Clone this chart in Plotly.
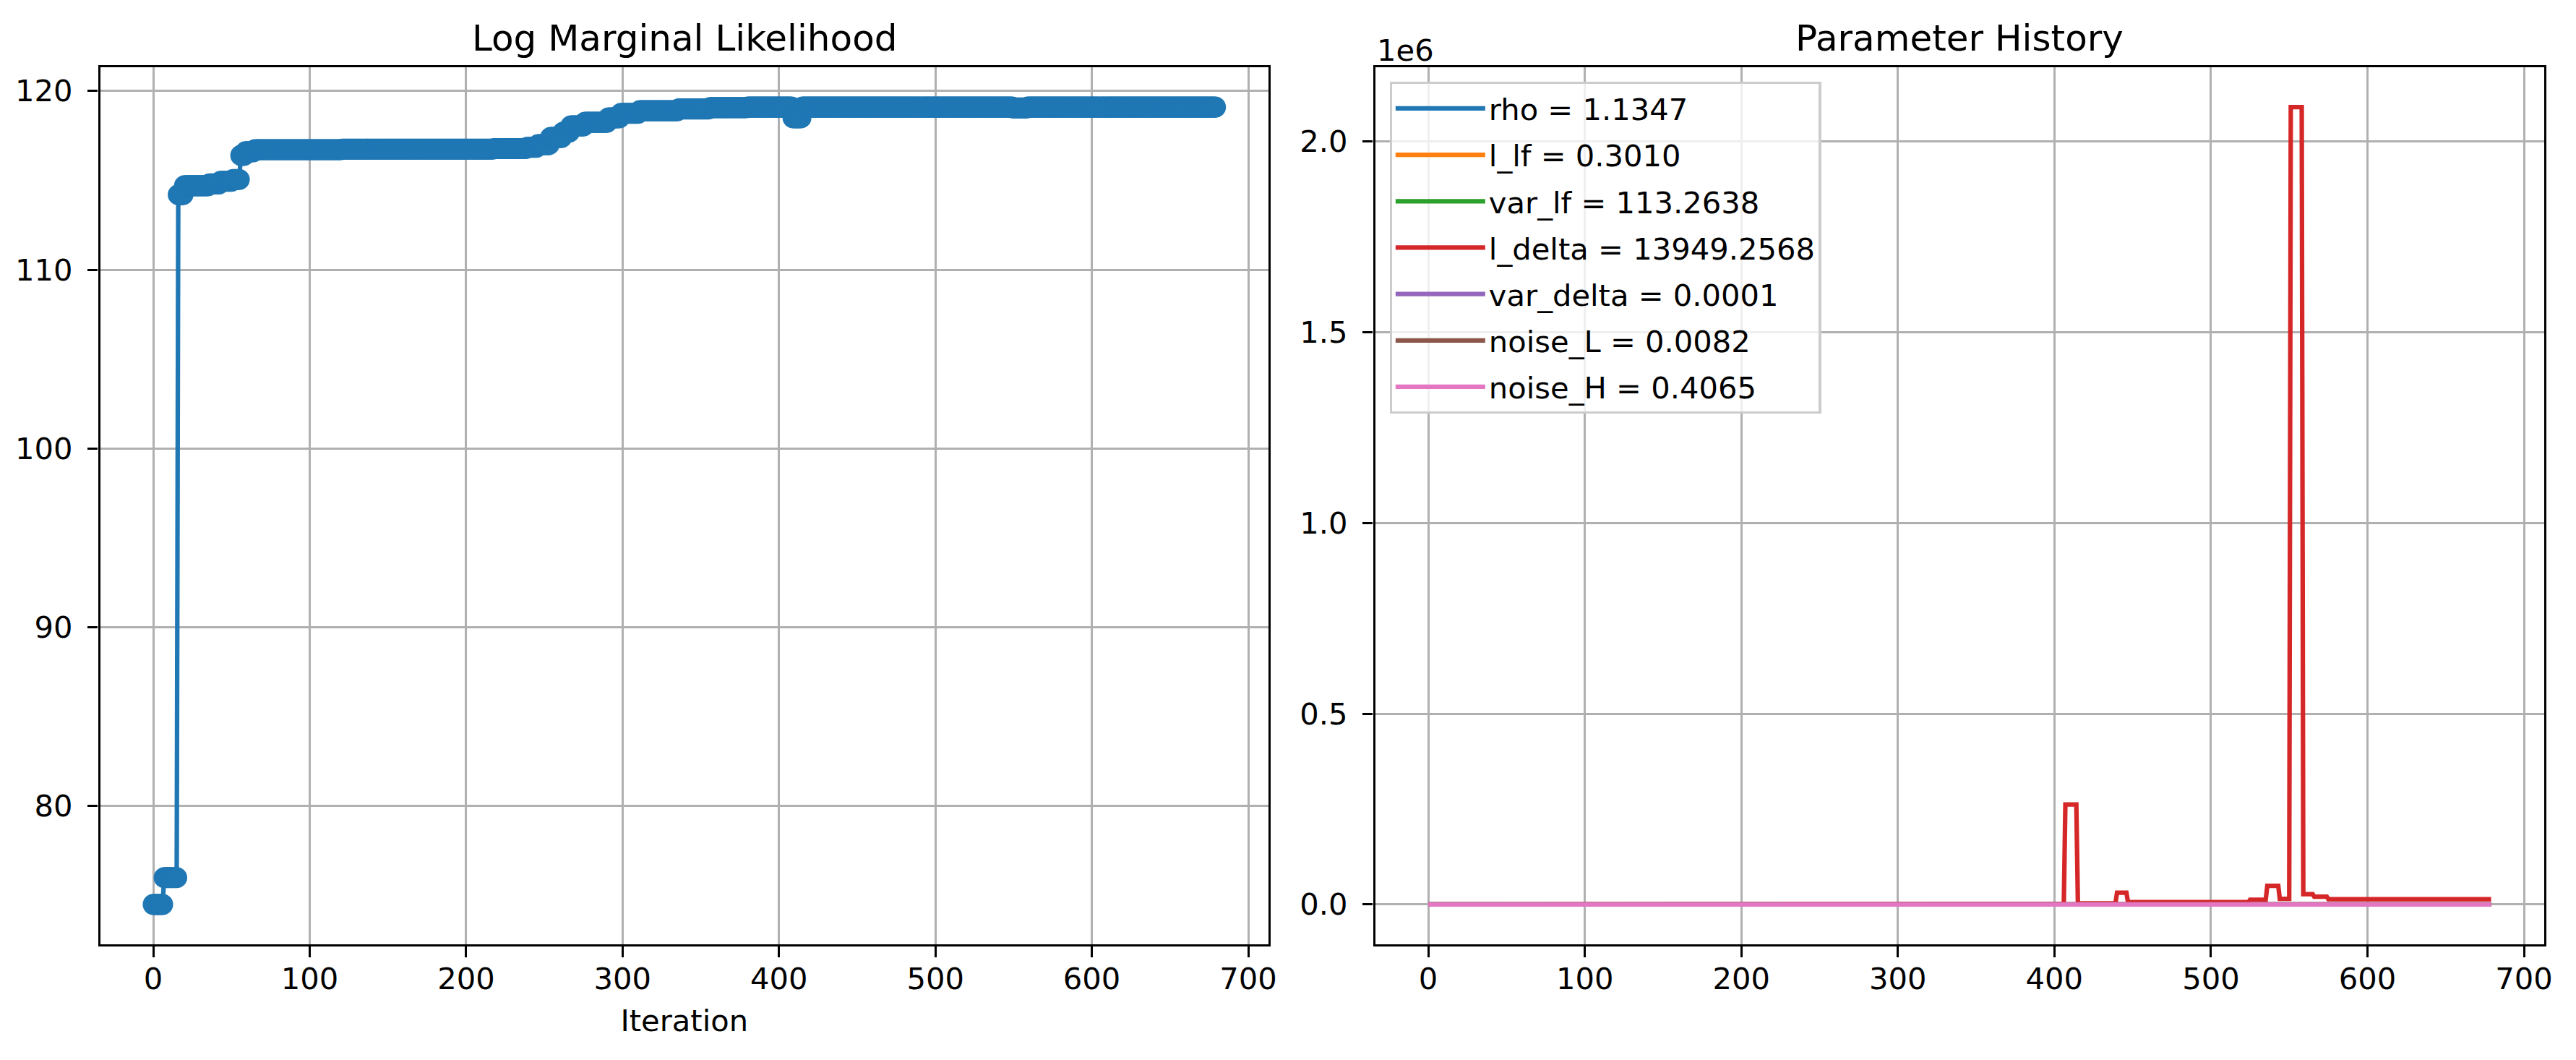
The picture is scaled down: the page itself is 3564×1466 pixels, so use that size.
import numpy as np
import plotly.graph_objects as go

# ---------------- data ----------------
N_ITER = 680
ITERATIONS = list(range(N_ITER))

# Log marginal likelihood (step history: segment start iteration, value)
LML_STARTS = [0, 7, 16, 20, 36, 43, 51, 56, 59, 65, 121, 218, 239, 246, 254,
              262, 267, 276, 291, 299, 311, 336, 356, 380, 409, 415, 550, 559]
LML_VALUES = [74.5, 76.0, 114.2, 114.7, 114.8, 114.95, 115.05, 116.4, 116.6,
              116.72, 116.75, 116.78, 116.85, 117.0, 117.4, 117.7, 118.05,
              118.25, 118.5, 118.75, 118.9, 119.0, 119.07, 119.1, 118.5,
              119.1, 119.05, 119.1]

PARAM_NAMES = ["rho", "l_lf", "var_lf", "l_delta", "var_delta", "noise_L", "noise_H"]

RHO_STARTS = [0, 16, 56, 262, 409, 551]
RHO_VALUES = [1.0, 1.05, 1.10, 1.12, 1.13, 1.1347]

L_LF_STARTS = [0, 16, 56, 262, 409]
L_LF_VALUES = [1.0, 0.6, 0.45, 0.33, 0.3010]

VAR_LF_STARTS = [0, 16, 56, 262, 409]
VAR_LF_VALUES = [1.0, 20.0, 60.0, 95.0, 113.2638]

L_DELTA_STARTS = [0, 120, 250, 350, 407, 415, 440, 447, 525, 536, 544, 551,
                  559, 566, 575]
L_DELTA_VALUES = [100.0, 300.0, 800.0, 1500.0, 262000.0, 3000.0, 31000.0,
                  6000.0, 12500.0, 49000.0, 14500.0, 2090000.0, 27000.0,
                  20500.0, 13949.2568]

VAR_DELTA_STARTS = [0, 16, 262]
VAR_DELTA_VALUES = [1.0, 0.01, 0.0001]

NOISE_L_STARTS = [0, 16, 262]
NOISE_L_VALUES = [0.1, 0.02, 0.0082]

NOISE_H_STARTS = [0, 16, 262]
NOISE_H_VALUES = [0.1, 0.3, 0.4065]

PARAM_STARTS = [RHO_STARTS, L_LF_STARTS, VAR_LF_STARTS, L_DELTA_STARTS,
                VAR_DELTA_STARTS, NOISE_L_STARTS, NOISE_H_STARTS]
PARAM_VALUES = [RHO_VALUES, L_LF_VALUES, VAR_LF_VALUES, L_DELTA_VALUES,
                VAR_DELTA_VALUES, NOISE_L_VALUES, NOISE_H_VALUES]

COLORS = ["#1f77b4", "#ff7f0e", "#2ca02c", "#d62728", "#9467bd", "#8c564b", "#e377c2"]

X_TICKS = [0, 100, 200, 300, 400, 500, 600, 700]
LML_TICKS = [80, 90, 100, 110, 120]
PARAM_TICKS = [0.0, 0.5e6, 1.0e6, 1.5e6, 2.0e6]
PARAM_TICK_TEXT = ["0.0", "0.5", "1.0", "1.5", "2.0"]


def expand(starts, values):
    lengths = np.diff(list(starts) + [N_ITER])
    return np.repeat(np.asarray(values, dtype=float), lengths)


# ---------------- style ----------------
W, H = 3564, 1466
PT = 300 / 72.0
FONT = "DejaVu Sans"
FS = 10 * PT
TFS = 12 * PT
GRID = "#b0b0b0"


def px_x(p):
    return p / W


def px_y(p):
    return (H - p) / H


def rng(vals):
    lo, hi = float(np.min(vals)), float(np.max(vals))
    m = 0.05 * (hi - lo)
    return [lo - m, hi + m]


fig = go.Figure()

lml = expand(LML_STARTS, LML_VALUES)
fig.add_trace(go.Scatter(
    x=ITERATIONS, y=lml, mode="lines+markers", xaxis="x", yaxis="y",
    line=dict(color=COLORS[0], width=1.5 * PT),
    marker=dict(color=COLORS[0], size=7 * PT, line=dict(width=0)),
    showlegend=False, name="log marginal likelihood"))

all_params = []
for i, name in enumerate(PARAM_NAMES):
    ys = expand(PARAM_STARTS[i], PARAM_VALUES[i])
    all_params.append(ys)
    fig.add_trace(go.Scatter(
        x=ITERATIONS, y=ys, mode="lines", xaxis="x2", yaxis="y2",
        line=dict(color=COLORS[i], width=1.5 * PT),
        name=f"{name} = {PARAM_VALUES[i][-1]:.4f}",
        legendgroup=name, showlegend=True))

xr = rng(ITERATIONS)
axis_common = dict(
    showline=True, mirror=True, linecolor="black", linewidth=0.8 * PT,
    showgrid=True, gridcolor=GRID, gridwidth=0.8 * PT, zeroline=False,
    ticks="outside", ticklen=3.5 * PT, tickwidth=0.8 * PT, tickcolor="black",
    tickfont=dict(family=FONT, size=FS, color="black"),
)

ydom = [px_y(1306), px_y(93)]
fig.update_layout(
    width=W, height=H, autosize=False,
    margin=dict(l=0, r=0, t=0, b=0, pad=0),
    paper_bgcolor="white", plot_bgcolor="white",
    font=dict(family=FONT, size=FS, color="black"),
    xaxis=dict(domain=[px_x(139), px_x(1761)], range=xr, tickvals=X_TICKS,
               anchor="y", ticklabelstandoff=-6,
               title=dict(text="Iteration", font=dict(family=FONT, size=FS),
                          standoff=21),
               **axis_common),
    yaxis=dict(domain=ydom, range=rng(lml), tickvals=LML_TICKS, anchor="x",
               ticklabelstandoff=12, **axis_common),
    xaxis2=dict(domain=[px_x(1909), px_x(3532)], range=xr, tickvals=X_TICKS,
                anchor="y2", ticklabelstandoff=-6, **axis_common),
    yaxis2=dict(domain=ydom, range=rng(np.concatenate(all_params)),
                tickvals=PARAM_TICKS, ticktext=PARAM_TICK_TEXT, anchor="x2",
                ticklabelstandoff=12, **axis_common),
    legend=dict(x=px_x(1929), y=px_y(113), xanchor="left", yanchor="top",
                bgcolor="rgba(255,255,255,0.8)", bordercolor="#cccccc",
                borderwidth=0.8 * PT, font=dict(family=FONT, size=FS),
                traceorder="grouped", tracegroupgap=7, itemwidth=124),
    annotations=[
        dict(text="Log Marginal Likelihood", x=px_x(950), y=px_y(53),
             xref="paper", yref="paper", xanchor="center", yanchor="middle",
             showarrow=False, font=dict(family=FONT, size=TFS)),
        dict(text="Parameter History", x=px_x(2720), y=px_y(53),
             xref="paper", yref="paper", xanchor="center", yanchor="middle",
             showarrow=False, font=dict(family=FONT, size=TFS)),
        dict(text="1e6", x=px_x(1909), y=px_y(70),
             xref="paper", yref="paper", xanchor="left", yanchor="middle",
             showarrow=False, font=dict(family=FONT, size=FS)),
    ],
)

fig.write_html(
    "out.html",
    config={"displayModeBar": False},
    post_script="document.body.style.margin='0';document.body.style.padding='0';"
                "document.body.style.overflow='hidden';",
)
